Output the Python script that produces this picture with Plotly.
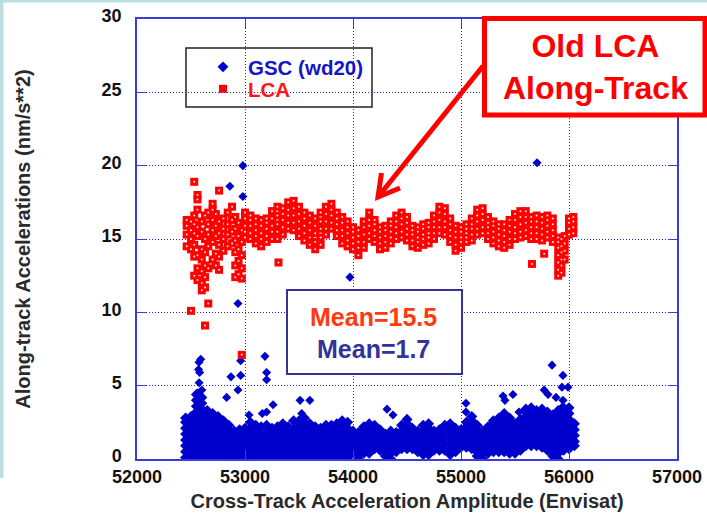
import plotly.graph_objects as go

# ---------------------------------------------------------------------------
# Along-track accelerations (nm/s**2) versus cross-track acceleration amplitude
# Values are grouped by amplitude bin: one list of readings per bin.
# ---------------------------------------------------------------------------

gsc_bins = [52450, 52500, 52550, 52600, 52650, 52700, 52750, 52800, 52850, 52900,
            52950, 53000, 53050, 53100, 53150, 53200, 53250, 53300, 53350, 53400,
            53450, 53500, 53550, 53600, 53650, 53700, 53750, 53800, 53850, 53900,
            53950, 54000, 54050, 54100, 54150, 54200, 54250, 54300, 54350, 54400,
            54450, 54500, 54550, 54600, 54650, 54700, 54750, 54800, 54850, 54900,
            54950, 55000, 55050, 55100, 55150, 55200, 55250, 55300, 55350, 55400,
            55450, 55500, 55550, 55600, 55650, 55700, 55750, 55800, 55850, 55900,
            55950, 56000, 56050]
gsc_vals = [
    [0.1, 0.5, 0.9, 1.3, 1.7, 2.1, 2.5, 2.8],
    [0.3, 0.7, 1.1, 1.5, 1.9, 2.3, 2.6, 2.9],
    [0.0, 0.4, 0.8, 1.2, 1.6, 2.0, 2.4, 2.8, 3.2, 3.6, 4.0, 4.4],
    [0.2, 0.6, 1.0, 1.4, 1.8, 2.2, 2.6, 3.0, 3.4, 3.8, 4.2],
    [0.0, 0.4, 0.8, 1.2, 1.6, 2.0, 2.4, 2.8, 3.3],
    [0.2, 0.6, 1.0, 1.4, 1.8, 2.2, 2.6, 3.1],
    [0.1, 0.5, 0.9, 1.3, 1.7, 2.1, 2.5, 2.9],
    [0.3, 0.7, 1.1, 1.5, 1.9, 2.3, 2.6],
    [0.1, 0.5, 0.9, 1.3, 1.7, 2.0, 2.3],
    [0.2, 0.6, 1.0, 1.4, 1.7, 1.9],
    [0.0, 0.4, 0.8, 1.2, 1.6, 2.0],
    [0.2, 0.6, 1.0, 1.4, 1.8, 2.1],
    [0.1, 0.5, 0.9, 1.3, 1.7, 2.1, 2.5],
    [0.3, 0.7, 1.1, 1.5, 1.9, 2.3],
    [0.1, 0.5, 0.9, 1.3, 1.7, 2.2],
    [0.2, 0.6, 1.0, 1.4, 1.8, 2.3],
    [0.0, 0.4, 0.8, 1.2, 1.6, 2.1],
    [0.2, 0.6, 1.0, 1.4, 1.8, 2.2],
    [0.1, 0.5, 0.9, 1.3, 1.7, 2.1, 2.4],
    [0.3, 0.7, 1.1, 1.5, 1.9, 2.2],
    [0.1, 0.5, 0.9, 1.3, 1.7, 2.1, 2.6],
    [0.2, 0.6, 1.0, 1.4, 1.8, 2.2, 2.6],
    [0.0, 0.4, 0.8, 1.2, 1.6, 2.0, 2.4, 2.8],
    [0.2, 0.6, 1.0, 1.4, 1.8, 2.1, 2.4],
    [0.1, 0.5, 0.9, 1.3, 1.7, 2.2],
    [0.3, 0.7, 1.1, 1.5, 1.8, 2.1],
    [0.1, 0.5, 0.9, 1.3, 1.7, 2.0, 2.3],
    [0.2, 0.6, 1.0, 1.4, 1.8, 2.3],
    [0.1, 0.5, 0.9, 1.3, 1.7, 2.0, 2.4],
    [0.3, 0.7, 1.1, 1.5, 1.9, 2.3, 2.6],
    [0.1, 0.5, 0.9, 1.3, 1.7, 2.1, 2.5],
    [0.4, 0.8, 1.2, 1.6, 1.9],
    [0.0, 0.3, 0.6, 1.0, 1.4, 1.8],
    [0.4, 0.8, 1.2, 1.6, 2.0, 2.2],
    [0.4, 0.6, 1.0, 1.4, 1.8, 2.2, 2.4],
    [0.7, 1.1, 1.5, 1.9, 2.3],
    [0.6, 0.9, 1.3, 1.7, 2.0],
    [0.2, 0.5, 0.9, 1.3, 1.7],
    [0.0, 0.4, 0.8, 1.2, 1.6, 1.9],
    [0.5, 0.9, 1.3, 1.6, 1.8],
    [0.7, 1.1, 1.5, 1.9, 2.3],
    [0.7, 0.9, 1.3, 1.7, 2.1, 2.4, 2.7],
    [0.7, 1.0, 1.4, 1.8, 2.1],
    [0.5, 0.8, 1.2, 1.6, 1.9],
    [0.3, 0.7, 1.1, 1.5, 1.9, 2.3],
    [0.3, 0.5, 0.9, 1.3, 1.7, 2.1, 2.4],
    [0.6, 1.0, 1.4, 1.7, 1.9],
    [0.6, 0.8, 1.2, 1.6, 2.0],
    [0.6, 1.0, 1.4, 1.8, 2.1, 2.3],
    [0.3, 0.6, 1.0, 1.4, 1.8, 2.1, 2.4],
    [0.5, 0.9, 1.3, 1.7, 2.1],
    [0.8, 1.1, 1.5, 1.8, 2.0],
    [0.8, 1.0, 1.4, 1.8, 2.2, 2.5],
    [0.7, 1.1, 1.5, 1.9, 2.3, 2.6, 2.9],
    [0.2, 0.5, 0.9, 1.3, 1.7, 2.0, 2.3],
    [0.0, 0.4, 0.8, 1.2, 1.6, 1.9],
    [0.4, 0.7, 1.1, 1.5, 1.9, 2.2],
    [0.5, 0.9, 1.3, 1.7, 2.1, 2.4, 2.6],
    [0.5, 0.7, 1.1, 1.5, 1.9, 2.3, 2.6, 2.8],
    [0.5, 0.9, 1.3, 1.7, 2.1, 2.5, 2.8, 3.1],
    [0.4, 0.7, 1.1, 1.5, 1.9, 2.3, 2.6, 2.8],
    [0.4, 0.8, 1.2, 1.6, 2.0, 2.4],
    [0.6, 0.9, 1.3, 1.7, 2.1, 2.4, 2.7],
    [0.9, 1.3, 1.7, 2.1, 2.5, 2.9, 3.2, 3.4],
    [0.9, 1.1, 1.5, 1.9, 2.3, 2.7, 3.1, 3.5],
    [0.9, 1.3, 1.7, 2.1, 2.5, 2.9, 3.3],
    [0.8, 1.1, 1.5, 1.9, 2.3, 2.7, 3.1, 3.4],
    [0.6, 1.0, 1.4, 1.8, 2.2, 2.6, 3.0, 3.2],
    [0.2, 0.5, 0.9, 1.3, 1.7, 2.1, 2.5, 2.8, 3.0],
    [0.0, 0.4, 0.8, 1.2, 1.6, 2.0, 2.4, 2.8, 3.1, 3.3],
    [0.6, 0.9, 1.3, 1.7, 2.1, 2.5, 2.9, 3.2, 3.4],
    [0.7, 1.1, 1.5, 1.9, 2.3, 2.7, 3.1, 3.5],
    [0.9, 1.2, 1.6, 2.0, 2.4],
]
# isolated GSC readings away from the main cloud
gsc_extra_x = [52860, 52980, 52980, 55704, 52935, 53972,
               52574, 52590, 52570, 52580, 52575, 52560, 52600,
               52870, 52830, 52960, 52960, 52935, 53185, 53200, 53200,
               53260, 53160, 53200, 53510, 53600, 53525, 53545, 53490, 53037,
               55843, 55944, 55991, 55935, 55770, 55806, 55880, 55944, 55944,
               55389, 55407, 55481, 55537, 55046, 55046, 54315, 54370]
gsc_extra_y = [18.6, 17.9, 20.0, 20.2, 10.6, 12.4,
               6.6, 6.8, 6.1, 5.9, 5.2, 4.5, 4.7,
               5.6, 4.2, 6.7, 5.7, 4.7, 7.0, 5.9, 5.4,
               3.7, 3.1, 3.2, 4.0, 4.0, 3.1, 2.7, 2.5, 3.0,
               6.4, 5.7, 4.9, 4.9, 4.7, 4.4, 4.2, 4.0, 3.6,
               4.3, 4.0, 4.4, 3.2, 3.8, 3.2, 3.4, 3.0]

lca_bins = [52460, 52500, 52530, 52560, 52600, 52630, 52660, 52700, 52730, 52760,
            52800, 52840, 52880, 52910, 52940, 52970,
            53000, 53050, 53100, 53150, 53200, 53250, 53300, 53350, 53400, 53450,
            53500, 53550, 53600, 53650, 53700, 53750, 53800, 53850, 53900, 53950,
            54000, 54050, 54100, 54150, 54200, 54250, 54300, 54350, 54400, 54450,
            54500, 54550, 54600, 54650, 54700, 54750, 54800, 54850, 54900, 54950,
            55000, 55050, 55100, 55150, 55200, 55250, 55300, 55350, 55400, 55450,
            55500, 55550, 55600, 55650, 55700, 55750, 55800, 55850, 55900, 55930,
            55960, 56000, 56040]
lca_vals = [
    [14.5, 15.3, 15.9, 16.3],
    [14.3, 15.0, 15.6, 16.2, 10.1],
    [12.5, 13.8, 14.6, 15.4, 16.0, 16.6, 18.9],
    [12.2, 13.0, 13.9, 15.2, 15.8, 17.0, 17.7, 18.0],
    [11.5, 12.0, 12.8, 13.6, 14.3, 15.5, 16.2],
    [9.1, 11.7, 12.4, 13.2, 14.1, 15.0, 16.6],
    [10.6, 13.0, 14.5, 15.3, 16.0, 16.8],
    [13.6, 14.8, 15.6, 16.3, 17.0, 17.4],
    [13.2, 14.0, 15.2, 15.9, 16.7],
    [12.9, 13.8, 14.6, 15.4, 16.2, 18.3],
    [14.2, 15.0, 15.7, 16.4],
    [14.5, 15.3, 16.0, 16.8],
    [14.7, 15.5, 16.3, 17.2],
    [12.4, 13.2, 14.1, 14.9, 15.7, 16.5],
    [12.6, 13.5, 14.3, 15.2, 16.1],
    [7.1, 12.3, 13.0, 13.9, 14.8, 15.6],
    [15.1, 15.5, 15.9, 16.4, 16.8],
    [15.0, 15.4, 15.9, 16.3, 16.6],
    [14.7, 15.2, 15.6, 16.0, 16.4],
    [14.5, 15.0, 15.4, 15.9, 16.3],
    [14.8, 15.2, 15.7, 16.1, 16.4],
    [15.0, 15.5, 15.9, 16.4, 16.9],
    [15.0, 15.5, 16.0, 16.6, 17.2],
    [15.3, 15.8, 16.3, 16.7, 17.1],
    [15.7, 16.1, 16.6, 17.0, 17.5],
    [15.6, 16.1, 16.6, 17.1, 17.6],
    [15.2, 15.7, 16.2, 16.7, 17.2],
    [14.9, 15.4, 15.9, 16.4, 16.8],
    [14.6, 15.1, 15.6, 16.1, 16.6],
    [14.3, 14.8, 15.4, 15.9, 16.4],
    [14.6, 15.1, 15.7, 16.2, 16.8],
    [15.3, 15.7, 16.2, 16.7, 17.2],
    [15.7, 16.1, 16.6, 17.0, 17.4],
    [15.2, 15.6, 16.0, 16.4, 16.8],
    [14.7, 15.2, 15.6, 16.1, 16.5],
    [14.5, 14.9, 15.4, 15.8, 16.2],
    [14.3, 14.7, 15.1, 15.5, 15.8],
    [13.9, 14.4, 14.8, 15.2, 15.6],
    [14.4, 14.8, 15.3, 15.8, 16.2],
    [15.0, 15.4, 15.9, 16.3, 16.8],
    [14.8, 15.2, 15.6, 16.0, 16.3],
    [14.3, 14.7, 15.1, 15.5, 15.8],
    [14.4, 14.8, 15.2, 15.6, 15.9],
    [14.7, 15.1, 15.5, 15.9, 16.2],
    [15.0, 15.4, 15.8, 16.2, 16.6],
    [15.1, 15.5, 16.0, 16.4, 16.8],
    [14.9, 15.3, 15.7, 16.1, 16.5],
    [14.5, 14.9, 15.3, 15.6, 15.9],
    [14.4, 14.8, 15.1, 15.5, 15.8],
    [14.6, 15.0, 15.3, 15.7, 16.0],
    [14.7, 15.1, 15.4, 15.8, 16.1],
    [15.0, 15.4, 15.8, 16.2, 16.6],
    [15.4, 15.8, 16.3, 16.8, 17.2],
    [15.3, 15.8, 16.2, 16.7, 17.1],
    [14.8, 15.2, 15.6, 16.0, 16.4],
    [14.2, 14.6, 15.1, 15.5, 15.9],
    [14.4, 14.8, 15.1, 15.5, 15.8],
    [14.8, 15.1, 15.4, 15.7, 16.0],
    [14.9, 15.3, 15.7, 16.0, 16.4],
    [15.3, 15.7, 16.2, 16.6, 17.0],
    [15.4, 15.8, 16.3, 16.7, 17.1],
    [15.0, 15.4, 15.8, 16.1, 16.5],
    [14.7, 15.1, 15.5, 15.9, 16.2],
    [14.5, 14.9, 15.3, 15.7, 16.0],
    [14.4, 14.8, 15.2, 15.6, 16.0],
    [14.6, 15.0, 15.5, 15.9, 16.3],
    [15.0, 15.4, 15.8, 16.3, 16.7],
    [15.1, 15.5, 16.0, 16.5, 16.9],
    [15.2, 15.6, 16.1, 16.5, 16.9],
    [15.0, 15.4, 15.8, 16.2, 16.5],
    [15.0, 15.4, 15.8, 16.2, 16.6],
    [14.9, 15.3, 15.7, 16.1, 16.5],
    [15.1, 15.5, 15.9, 16.3, 16.6],
    [14.8, 15.2, 15.6, 16.0, 16.4],
    [12.5, 12.9, 13.4, 13.9, 14.4, 14.8, 15.1],
    [12.7, 13.2, 13.6, 14.1, 14.5, 15.0],
    [13.6, 14.2, 14.7, 15.2],
    [15.3, 15.7, 16.1, 16.4],
    [15.4, 15.8, 16.2, 16.5],
]
lca_extra_x = [53310, 55657, 55770]
lca_extra_y = [13.4, 13.3, 14.0]

mean_lca = 15.5
mean_gsc = 1.7


def flatten(bins, vals, ex, ey):
    xs, ys = [], []
    for b, col in zip(bins, vals):
        for v in col:
            xs.append(b)
            ys.append(v)
    return xs + ex, ys + ey


gsc_x, gsc_y = flatten(gsc_bins, gsc_vals, gsc_extra_x, gsc_extra_y)
lca_x, lca_y = flatten(lca_bins, lca_vals, lca_extra_x, lca_extra_y)

# marker sizes: the dense cloud is drawn slightly larger than isolated readings
n_gsc_cloud = sum(len(c) for c in gsc_vals)
gsc_size = [8.5] * n_gsc_cloud + [7] * len(gsc_extra_x)

# ---------------------------------------------------------------------------
W, H = 707, 515
ML, MR, MT, MB = 137, 30, 19, 56
PW, PH = W - ML - MR, H - MT - MB


def px(x):
    return (x - ML) / PW


def py(y):
    return (H - MB - y) / PH


FONT = "Liberation Sans, Arial, sans-serif"
AXIS_BLUE = "#3b3bdc"
GRID_BLUE = "#2222ee"

fig = go.Figure()
fig.add_trace(go.Scatter(
    x=gsc_x, y=gsc_y, mode="markers", legend="legend",
    name="<span style='color:#1414c8'>GSC (wd20)</span>",
    marker=dict(symbol="diamond", size=gsc_size, color="#0000cc",
                opacity=1, line=dict(width=0)),
))
fig.add_trace(go.Scatter(
    x=lca_x, y=lca_y, mode="markers", legend="legend2",
    name="<span style='color:#ff1414'>LCA</span>",
    marker=dict(symbol="square", size=8, color="#ff0000",
                opacity=1, line=dict(width=0)),
))
fig.add_trace(go.Scatter(
    x=lca_x, y=lca_y, mode="markers", showlegend=False, hoverinfo="skip",
    marker=dict(symbol="circle", size=2, color="#ffe2e2",
                opacity=1, line=dict(width=0)),
))

axis_common = dict(
    showline=True, linecolor=AXIS_BLUE, linewidth=1.5, mirror="ticks",
    ticks="inside", ticklen=9, tickwidth=1.2, tickcolor=AXIS_BLUE,
    showgrid=True, gridcolor=GRID_BLUE, gridwidth=1.2, griddash="1px,2px",
    zeroline=False, tickformat="d",
    tickfont=dict(family=FONT, size=18, color="#111111", weight="bold"),
)

fig.update_xaxes(
    range=[52000, 57000], dtick=1000, tick0=52000, **axis_common,
    ticklabelstandoff=1,
    title=dict(text="Cross-Track Acceleration Amplitude (Envisat)", standoff=8,
               font=dict(family=FONT, size=20, color="#2a2a2a", weight="bold")),
)
fig.update_yaxes(
    range=[0, 30], dtick=5, tick0=0, **axis_common,
    ticklabelstandoff=10, ticklabelshift=-3,
    title=dict(text="Along-track Accelerations (nm/s**2)", standoff=66,
               font=dict(family=FONT, size=20, color="#2a2a2a", weight="bold")),
)

shapes = [
    # thin teal page border strips
    dict(type="rect", xref="paper", yref="paper", x0=px(0), x1=px(3.5),
         y0=py(478), y1=py(0), line=dict(width=0), fillcolor="#b9dfe3", layer="below"),
    dict(type="rect", xref="paper", yref="paper", x0=px(0), x1=px(W),
         y0=py(2.5), y1=py(0), line=dict(width=0), fillcolor="#b9dfe3", layer="below"),
    # legend frame
    dict(type="rect", xref="paper", yref="paper", x0=px(186), x1=px(372),
         y0=py(107), y1=py(48), line=dict(color="#222222", width=1.5),
         fillcolor="white", layer="between"),
    # "Old LCA" call-out box
    dict(type="rect", xref="paper", yref="paper", x0=px(484.5), x1=px(705),
         y0=py(115), y1=py(18.5), line=dict(color="#ff0000", width=5),
         fillcolor="white", layer="above"),
    # call-out arrow
    dict(type="path", xref="paper", yref="paper", layer="above",
         path=f"M {px(483)},{py(66)} L {px(378)},{py(197)}",
         line=dict(color="#ff0000", width=5)),
    dict(type="path", xref="paper", yref="paper", layer="above",
         path=f"M {px(381.5)},{py(173)} L {px(378)},{py(197)} L {px(400)},{py(188)}",
         line=dict(color="#ff0000", width=5)),
    # mean values box
    dict(type="rect", xref="paper", yref="paper", x0=px(287), x1=px(462),
         y0=py(374), y1=py(290), line=dict(color="#333399", width=2),
         fillcolor="white", layer="above"),
]

annotations = [
    dict(xref="paper", yref="paper", x=px(595), y=py(67), xanchor="center",
         yanchor="middle", showarrow=False, align="center",
         text="Old LCA<br>Along-Track",
         font=dict(family=FONT, size=32, color="#ff0000", weight="bold")),
    dict(xref="paper", yref="paper", x=px(373), y=py(317), xanchor="center",
         yanchor="middle", showarrow=False,
         text=f"Mean={mean_lca}",
         font=dict(family=FONT, size=25, color="#ff3a0c", weight="bold")),
    dict(xref="paper", yref="paper", x=px(373), y=py(349), xanchor="center",
         yanchor="middle", showarrow=False,
         text=f"Mean={mean_gsc}",
         font=dict(family=FONT, size=25, color="#333399", weight="bold")),
]

legend_style = dict(
    xanchor="left", yanchor="middle", bgcolor="rgba(0,0,0,0)", borderwidth=0,
    font=dict(family=FONT, size=20.5, weight="bold"),
    itemwidth=40, indentation=12,
)

fig.update_layout(
    width=W, height=H,
    margin=dict(l=ML, r=MR, t=MT, b=MB, autoexpand=False),
    paper_bgcolor="white", plot_bgcolor="white",
    shapes=shapes, annotations=annotations,
    showlegend=True,
    legend=dict(x=px(186), y=py(67), **legend_style),
    legend2=dict(x=px(186), y=py(89), **legend_style),
)

fig.write_html("out.html")
